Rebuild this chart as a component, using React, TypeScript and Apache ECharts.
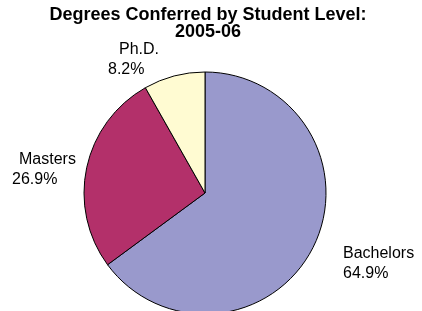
import React, { useEffect, useRef } from "react";
import * as echarts from "echarts";

const titleLines = ["Degrees Conferred by Student Level:", "2005-06"];
const levels = ["Bachelors", "Masters", "Ph.D."];
const shares = [64.9, 26.9, 8.2];
const colors = ["#9999CC", "#B3306A", "#FFFBD2"];

// label placement (left x, vertical center of two-line block, indent of first line)
const labelPlacement = [
  { x: 343, y: 262, indent: 0 },
  { x: 12, y: 168, indent: 7 },
  { x: 108, y: 58, indent: 11 },
];

const FONT = "'Liberation Sans', Arial, Helvetica, sans-serif";

export default function App() {
  const ref = useRef<HTMLDivElement>(null);
  useEffect(() => {
    if (!ref.current) return;
    const chart = echarts.init(ref.current, null, { renderer: "svg" });
    const data = levels.map((name, i) => ({
      name,
      value: shares[i],
      itemStyle: { color: colors[i] },
      label: {
        formatter: (p: any) => `{n|${p.name}}\n{v|${p.value.toFixed(1)}%}`,
        rich: {
          n: {
            fontFamily: FONT,
            fontSize: 16,
            lineHeight: 20,
            color: "#000",
            padding: [0, 0, 0, labelPlacement[i].indent],
          },
          v: {
            fontFamily: FONT,
            fontSize: 16,
            lineHeight: 20,
            color: "#000",
          },
        },
      },
    }));
    chart.setOption({
      animation: false,
      graphic: [
        {
          type: "text",
          x: 208,
          y: 5,
          style: {
            text: titleLines.join("\n"),
            fontFamily: FONT,
            fontSize: 18,
            fontWeight: "bold",
            lineHeight: 17,
            fill: "#000",
            align: "center",
            verticalAlign: "top",
          },
        },
      ],
      series: [
        {
          type: "pie",
          center: [205, 193],
          radius: 121,
          startAngle: 90,
          clockwise: true,
          avoidLabelOverlap: false,
          emphasis: { disabled: true },
          itemStyle: { borderColor: "#000", borderWidth: 1 },
          label: { show: true, position: "outside", align: "left" },
          labelLine: { show: false },
          labelLayout: (params: any) => {
            const p = labelPlacement[params.dataIndex];
            return { x: p.x, y: p.y, align: "left", verticalAlign: "middle" };
          },
          data,
        },
      ],
    });
    return () => chart.dispose();
  }, []);
  return (
    <div
      ref={ref}
      style={{ position: "fixed", left: 0, top: 0, width: 422, height: 311 }}
    />
  );
}
